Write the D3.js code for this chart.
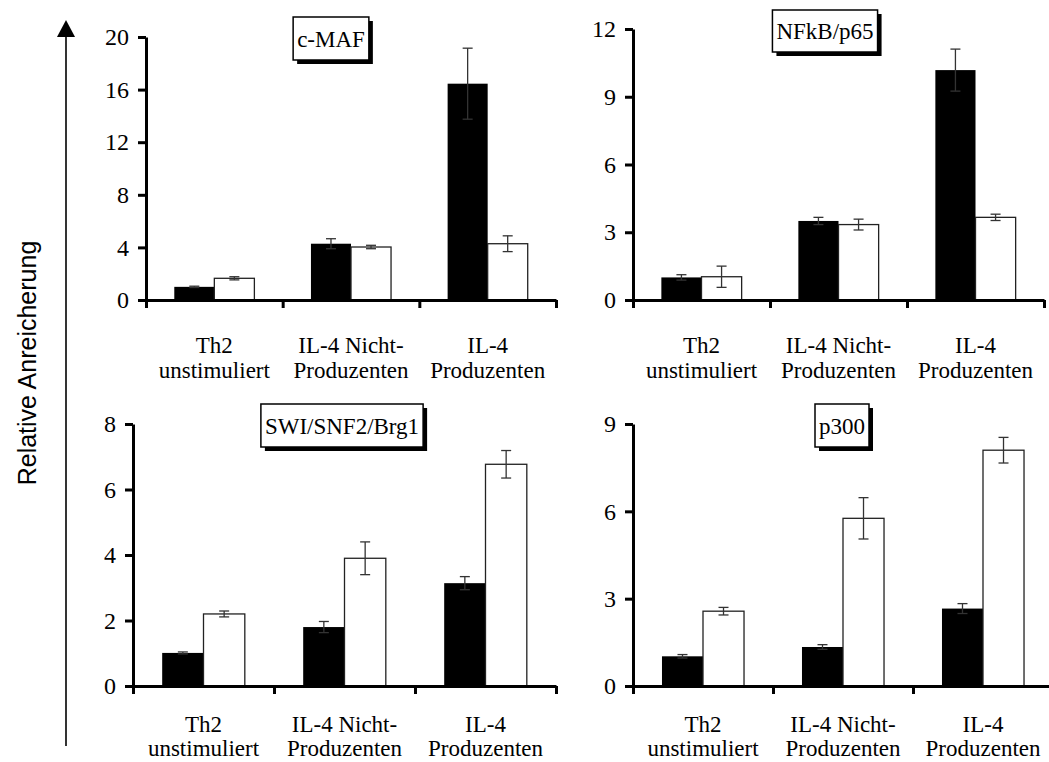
<!DOCTYPE html>
<html><head><meta charset="utf-8">
<script src="https://cdn.jsdelivr.net/npm/d3@7"></script>
<style>
body{margin:0;background:#fff;}
svg{display:block;}
</style></head>
<body>
<svg id="chart" width="1049" height="762"></svg>
<script>
// ---- data ----
const catLine1 = ["Th2", "IL-4 Nicht-", "IL-4"];
const catLine2 = ["unstimuliert", "Produzenten", "Produzenten"];
const titles = ["c-MAF", "NFkB/p65", "SWI/SNF2/Brg1", "p300"];
const yAxisTitle = "Relative Anreicherung";

const cMafBlack = [1.0, 4.28, 16.45];
const cMafBlackErr = [0.05, 0.38, 2.7];
const cMafWhite = [1.65, 4.03, 4.28];
const cMafWhiteErr = [0.12, 0.13, 0.6];
const cMafTicks = [0, 4, 8, 12, 16, 20];

const nfkbBlack = [1.0, 3.5, 10.18];
const nfkbBlackErr = [0.12, 0.16, 0.93];
const nfkbWhite = [1.03, 3.34, 3.66];
const nfkbWhiteErr = [0.47, 0.24, 0.14];
const nfkbTicks = [0, 3, 6, 9, 12];

const swiBlack = [1.01, 1.8, 3.14];
const swiBlackErr = [0.03, 0.17, 0.2];
const swiWhite = [2.2, 3.9, 6.77];
const swiWhiteErr = [0.09, 0.5, 0.42];
const swiTicks = [0, 2, 4, 6, 8];

const p300Black = [1.02, 1.34, 2.66];
const p300BlackErr = [0.06, 0.08, 0.17];
const p300White = [2.57, 5.76, 8.1];
const p300WhiteErr = [0.13, 0.71, 0.44];
const p300Ticks = [0, 3, 6, 9];

// ---- layout (positions only) ----
const layout = [
  {x0:146, x1:556, y0:300, yTop:37, boxCx:331, boxTop:17, boxH:43, l1:53, l2:78},
  {x0:633, x1:1044, y0:300, yTop:29, boxCx:825, boxTop:10, boxH:42, l1:53, l2:78},
  {x0:133, x1:556, y0:686, yTop:424, boxCx:342, boxTop:404, boxH:43, l1:46, l2:70},
  {x0:633, x1:1053, y0:686, yTop:424, boxCx:842, boxTop:404, boxH:43, l1:46, l2:70}
];

const panels = [
  {title:titles[0], black:cMafBlack, blackErr:cMafBlackErr, white:cMafWhite, whiteErr:cMafWhiteErr, ticks:cMafTicks},
  {title:titles[1], black:nfkbBlack, blackErr:nfkbBlackErr, white:nfkbWhite, whiteErr:nfkbWhiteErr, ticks:nfkbTicks},
  {title:titles[2], black:swiBlack, blackErr:swiBlackErr, white:swiWhite, whiteErr:swiWhiteErr, ticks:swiTicks},
  {title:titles[3], black:p300Black, blackErr:p300BlackErr, white:p300White, whiteErr:p300WhiteErr, ticks:p300Ticks}
];

const svg = d3.select("#chart");
const serif = "'Liberation Serif','Times New Roman','DejaVu Serif',serif";
const sans = "'Liberation Sans',Arial,sans-serif";

// left arrow + title
svg.append("line").attr("x1",66).attr("x2",66).attr("y1",746).attr("y2",34)
  .attr("stroke","#000").attr("stroke-width",1.6);
svg.append("path").attr("d","M66,20 L57,37 L75,37 Z").attr("fill","#000");
svg.append("text").attr("transform","translate(36,363) rotate(-90)")
  .attr("text-anchor","middle").attr("font-family",sans).attr("font-size",25)
  .text(yAxisTitle);

panels.forEach((p, k) => {
  const L = layout[k];
  const g = svg.append("g");
  const y = d3.scaleLinear().domain([0, d3.max(p.ticks)]).range([L.y0, L.yTop]);
  const xb = d3.scaleLinear().domain([0, 3]).range([L.x0, L.x1]);
  const xc = d3.scaleBand().domain(d3.range(3)).range([L.x0, L.x1]).padding(0);
  const bw = xc.bandwidth();
  const barW = bw * 0.293;

  // bars
  const cats = d3.range(3);
  g.selectAll("rect.b").data(cats).join("rect")
    .attr("x", i => xc(i) + bw/2 - barW).attr("width", barW)
    .attr("y", i => y(p.black[i])).attr("height", i => y(0) - y(p.black[i]))
    .attr("fill","#000");
  g.selectAll("rect.w").data(cats).join("rect")
    .attr("x", i => xc(i) + bw/2).attr("width", barW)
    .attr("y", i => y(p.white[i])).attr("height", i => y(0) - y(p.white[i]))
    .attr("fill","#fff").attr("stroke","#222").attr("stroke-width",1.3);

  // error bars
  const errs = [];
  cats.forEach(i => {
    errs.push({cx: xc(i) + bw/2 - barW/2, v: p.black[i], e: p.blackErr[i]});
    errs.push({cx: xc(i) + bw/2 + barW/2, v: p.white[i], e: p.whiteErr[i]});
  });
  const eg = g.selectAll("g.err").data(errs).join("g").attr("stroke","#333").attr("stroke-width",1.3);
  eg.append("line").attr("x1", d => d.cx).attr("x2", d => d.cx)
    .attr("y1", d => y(d.v + d.e)).attr("y2", d => y(d.v - d.e));
  eg.append("line").attr("x1", d => d.cx - 5).attr("x2", d => d.cx + 5)
    .attr("y1", d => y(d.v + d.e)).attr("y2", d => y(d.v + d.e));
  eg.append("line").attr("x1", d => d.cx - 5).attr("x2", d => d.cx + 5)
    .attr("y1", d => y(d.v - d.e)).attr("y2", d => y(d.v - d.e));

  // y axis
  const ya = g.append("g").attr("transform", `translate(${L.x0},0)`)
    .call(d3.axisLeft(y).tickValues(p.ticks).tickSize(8).tickSizeOuter(0).tickPadding(9));
  ya.select(".domain").attr("stroke-width",3);
  ya.selectAll(".tick line").attr("stroke-width",3);
  ya.selectAll(".tick text").attr("font-family",serif).attr("font-size",24).attr("fill","#000");

  // x axis
  const xa = g.append("g").attr("transform", `translate(0,${L.y0})`)
    .call(d3.axisBottom(xb).tickValues([0,1,2,3]).tickFormat("").tickSize(8).tickSizeOuter(0));
  xa.select(".domain").attr("stroke-width",3);
  xa.selectAll(".tick line").attr("stroke-width",3);

  // category labels
  g.selectAll("text.c1").data(cats).join("text")
    .attr("x", i => xc(i) + bw/2).attr("y", L.y0 + L.l1)
    .attr("text-anchor","middle").attr("font-family",serif).attr("font-size",23)
    .text(i => catLine1[i]);
  g.selectAll("text.c2").data(cats).join("text")
    .attr("x", i => xc(i) + bw/2).attr("y", L.y0 + L.l2)
    .attr("text-anchor","middle").attr("font-family",serif).attr("font-size",23)
    .text(i => catLine2[i]);

  // title box with shadow
  const tb = g.append("g");
  const shadow = tb.append("rect").attr("fill","#000");
  const box = tb.append("rect").attr("fill","#fff").attr("stroke","#000").attr("stroke-width",1.5);
  const t = tb.append("text").attr("x", L.boxCx).attr("y", L.boxTop + L.boxH/2 + 8)
    .attr("text-anchor","middle").attr("font-family",serif).attr("font-size",23).text(p.title);
  const tw = t.node().getComputedTextLength();
  const bwid = tw + 8;
  box.attr("x", L.boxCx - bwid/2).attr("y", L.boxTop).attr("width", bwid).attr("height", L.boxH);
  shadow.attr("x", L.boxCx - bwid/2 + 4).attr("y", L.boxTop + 4).attr("width", bwid).attr("height", L.boxH);
});
</script>
</body></html>
